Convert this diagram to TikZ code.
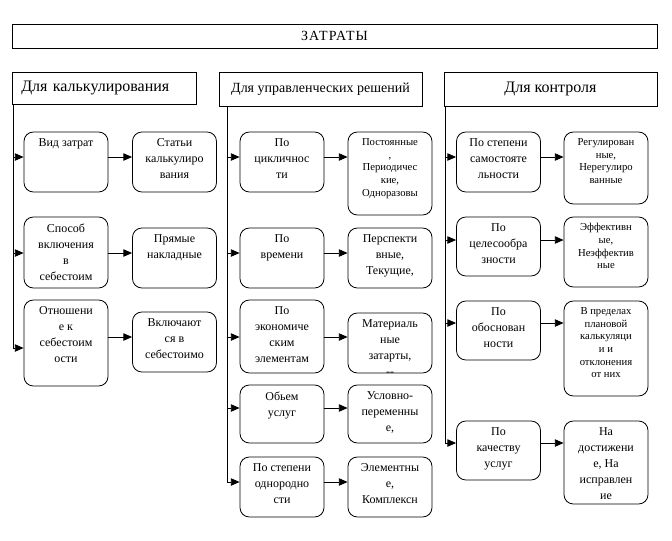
\documentclass[tikz,border=0pt]{standalone}
\usepackage{fontspec}
\setmainfont{Liberation Serif}
\usetikzlibrary{arrows.meta}
\tikzstyle{head} = [
    rectangle,
    draw=black,
    line width=0.6pt,
    inner sep=0pt
]
\tikzstyle{cell} = [
    rectangle,
    rounded corners=7pt,
    draw=black,
    line width=0.6pt,
    minimum width=63pt,
    minimum height=45pt,
    inner sep=0pt
]
\tikzstyle{txt} = [
    anchor=north,
    yshift=-5pt,
    align=center,
    inner sep=0pt,
    font=\fontsize{9}{12}\selectfont
]
\tikzstyle{txtsmall} = [
    txt,
    font=\fontsize{8}{9.5}\selectfont
]
\tikzstyle{arrow} = [
    line width=0.6pt,
    -{Triangle[length=6.5pt,width=5.5pt]}
]

\begin{document}
\begin{tikzpicture}[x=0.75pt, y=-0.75pt]
    \useasboundingbox (0,0) rectangle (672,540);

    % headers
    \node[head, minimum width=483.75pt, minimum height=18pt,
        font=\fontsize{10.5}{12}\selectfont\addfontfeature{LetterSpace=8}] (zatr) at (334.5,36) {ЗАТРАТЫ};
    \node[head, minimum height=24pt, text width=124pt, inner xsep=7pt, align=left,
        font=\fontsize{12}{14}\selectfont] (kalk) at (104,88) {Для калькулирования};
    \node[head, minimum width=152.25pt, minimum height=25.5pt,
        font=\fontsize{10.5}{12}\selectfont] (upr) at (320.5,89) {Для управленческих решений};
    \node[head, minimum width=159.75pt, minimum height=25.5pt,
        font=\fontsize{12}{14}\selectfont] (kontr) at (550.5,89) {Для контроля};

    % rows of the arrows
    \coordinate (ra) at (0,157);
    \coordinate (rb) at (0,253);
    \coordinate (rc) at (0,337);
    \coordinate (rd) at (0,348);
    \coordinate (re) at (0,408);
    \coordinate (rf) at (0,482);
    \coordinate (rg) at (0,240);
    \coordinate (rh) at (0,323);
    \coordinate (ri) at (0,443);

    % trunks
    \coordinate (tk) at ([xshift=1.5pt]kalk.south west);
    \coordinate (tu) at ([xshift=6.75pt]upr.south west);
    \coordinate (tc) at ([xshift=1.5pt]kontr.south west);

    % left column
    \node[cell, label={[txt]north:Вид затрат}] (vid) at (66,162) {};
    \node[cell, label={[txt]north:Статьи\\калькулиро\\вания}] (stat) at (174.5,162) {};
    \node[cell, minimum height=53.25pt, label={[txt]north:Способ\\включения\\в\\себестоим}] (spos) at (66,252.5) {};
    \node[cell, label={[txt]north:Прямые\\накладные}] (pryam) at (174.5,258) {};
    \node[cell, minimum height=64.5pt, label={[txt]north:Отношени\\е к\\себестоим\\ости}] (otn) at (66,343) {};
    \node[cell, label={[txt]north:Включают\\ся в\\себестоимо}] (vkl) at (174.5,342) {};

    % middle column
    \node[cell, label={[txt]north:По\\цикличнос\\ти}] (cikl) at (282,162) {};
    \node[cell, minimum height=62.25pt, label={[txtsmall]north:Постоянные\\,\\Периодичес\\кие,\\Одноразовы}] (post) at (390,173.5) {};
    \node[cell, label={[txt]north:По\\времени}] (vrem) at (282,258) {};
    \node[cell, label={[txt]north:Перспекти\\вные,\\Текущие,}] (persp) at (390,258) {};
    \node[cell, minimum height=54.75pt, label={[txt]north:По\\экономиче\\ским\\элементам}] (ekon) at (282,336.5) {};
    \node[cell, label={[txt]north:Материаль\\ные\\затарты,\\-{}-}] (mater) at (390,343) {};
    \node[cell, minimum height=43.5pt, label={[txt]north:Обьем\\услуг}] (obem) at (282,414) {};
    \node[cell, minimum height=43.5pt, label={[txt]north:Условно-\\переменны\\е,}] (uslov) at (390,414) {};
    \node[cell, label={[txt]north:По степени\\однородно\\сти}] (odnor) at (282,487) {};
    \node[cell, label={[txt]north:Элементны\\е,\\Комплексн}] (elem) at (390,487) {};

    % right column
    \node[cell, label={[txt]north:По степени\\самостояте\\льности}] (samost) at (498.5,162) {};
    \node[cell, minimum height=54pt, label={[txtsmall]north:Регулирован\\ные,\\Нерегулиро\\ванные}] (regul) at (606,168) {};
    \node[cell, minimum height=44.25pt, label={[txt]north:По\\целесообра\\зности}] (celes) at (498.5,246.5) {};
    \node[cell, minimum height=52.5pt, label={[txtsmall]north:Эффективн\\ые,\\Неэффектив\\ные}] (effekt) at (606,252) {};
    \node[cell, minimum height=44.25pt, label={[txt]north:По\\обоснован\\ности}] (obosn) at (498.5,330.5) {};
    \node[cell, minimum height=71.25pt, label={[txtsmall]north:В пределах\\плановой\\калькуляци\\и и\\отклонения\\от них}] (vpred) at (606,348.5) {};
    \node[cell, minimum height=44.25pt, label={[txt]north:По\\качеству\\услуг}] (kach) at (498.5,450.5) {};
    \node[cell, minimum height=62.25pt, label={[txt]north:На\\достижени\\е, На\\исправлен\\ие}] (nadost) at (606,462.5) {};

    % left connectors
    \draw[arrow] (tk) |- (otn.west |- rd);
    \draw[arrow] (tk |- ra) -- (vid.west |- ra);
    \draw[arrow] (tk |- rb) -- (spos.west |- rb);
    \draw[arrow] (vid.east |- ra) -- (stat.west |- ra);
    \draw[arrow] (spos.east |- rb) -- (pryam.west |- rb);
    \draw[arrow] (otn.east |- rc) -- (vkl.west |- rc);

    % middle connectors
    \draw[arrow] (tu) |- (odnor.west |- rf);
    \draw[arrow] (tu |- ra) -- (cikl.west |- ra);
    \draw[arrow] (tu |- rb) -- (vrem.west |- rb);
    \draw[arrow] (tu |- rc) -- (ekon.west |- rc);
    \draw[arrow] (tu |- re) -- (obem.west |- re);
    \draw[arrow] (cikl.east |- ra) -- (post.west |- ra);
    \draw[arrow] (vrem.east |- rb) -- (persp.west |- rb);
    \draw[arrow] (ekon.east |- rc) -- (mater.west |- rc);
    \draw[arrow] (obem.east |- re) -- (uslov.west |- re);
    \draw[arrow] (odnor.east |- rf) -- (elem.west |- rf);

    % right connectors
    \draw[arrow] (tc) |- (kach.west |- ri);
    \draw[arrow] (tc |- ra) -- (samost.west |- ra);
    \draw[arrow] (tc |- rg) -- (celes.west |- rg);
    \draw[arrow] (tc |- rh) -- (obosn.west |- rh);
    \draw[arrow] (samost.east |- ra) -- (regul.west |- ra);
    \draw[arrow] (celes.east |- rg) -- (effekt.west |- rg);
    \draw[arrow] (obosn.east |- rh) -- (vpred.west |- rh);
    \draw[arrow] (kach.east |- ri) -- (nadost.west |- ri);
\end{tikzpicture}
\end{document}
